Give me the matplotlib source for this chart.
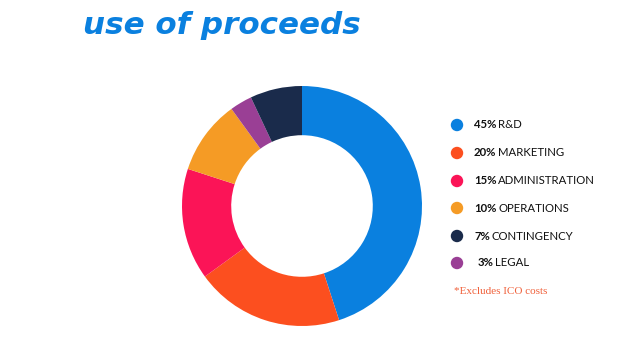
import matplotlib.pyplot as plt

# data
pcts = [45, 20, 15, 10, 3, 7]
names = ['R&D', 'MARKETING', 'ADMINISTRATION', 'OPERATIONS', 'LEGAL', 'CONTINGENCY']
colors = ['#0a80df', '#fc4f1f', '#fb1457', '#f59b25', '#9a3f95', '#1a2b4b']

# legend order as in the picture
legend_order = [0, 1, 2, 3, 5, 4]

W, H = 622, 353
fig = plt.figure(figsize=(W / 100, H / 100), dpi=100)
fig.patch.set_facecolor('white')

# donut
cx, cy, r = 302, 206, 120
ax = fig.add_axes([(cx - r) / W, (H - cy - r) / H, 2 * r / W, 2 * r / H])
ax.pie(pcts, colors=colors, startangle=90, counterclock=False,
       wedgeprops=dict(width=0.41, edgecolor='none'))
ax.set_xlim(-1, 1)
ax.set_ylim(-1, 1)
ax.set_aspect('equal')
ax.axis('off')

# title
fig.text(83 / W, 1 - 25 / H, 'use of proceeds', fontsize=22.3, fontweight='heavy',
         fontstyle='italic', color='#0a80df', va='center', ha='left',
         family='DejaVu Sans')

# legend markers
rows_y = [125, 153, 181, 208, 236, 263]
mk = fig.add_axes([0, 0, 1, 1], facecolor='none')
mk.set_xlim(0, W)
mk.set_ylim(H, 0)
mk.axis('off')
mk.scatter([457] * 6, rows_y, s=80, c=[colors[i] for i in legend_order], linewidths=0)

# legend text: bold percent then regular label
fig.canvas.draw()
renderer = fig.canvas.get_renderer()
for k, i in enumerate(legend_order):
    y = 1 - rows_y[k] / H
    x0 = 478 if i == 4 else 474
    t = fig.text(x0 / W, y, f'{pcts[i]}%', fontsize=8.2, fontweight='bold',
                 color='#111111', va='center', ha='left', family='Lato')
    bb = t.get_window_extent(renderer)
    fig.text((bb.x1 + 1.5) / W, y, names[i], fontsize=8.2, color='#111111',
             va='center', ha='left', family='Lato')

fig.text(454 / W, 1 - 292 / H, '*Excludes ICO costs', fontsize=8, color='#f0603a',
         va='center', ha='left', family='Liberation Serif')

fig.savefig('out.png', dpi=100)
